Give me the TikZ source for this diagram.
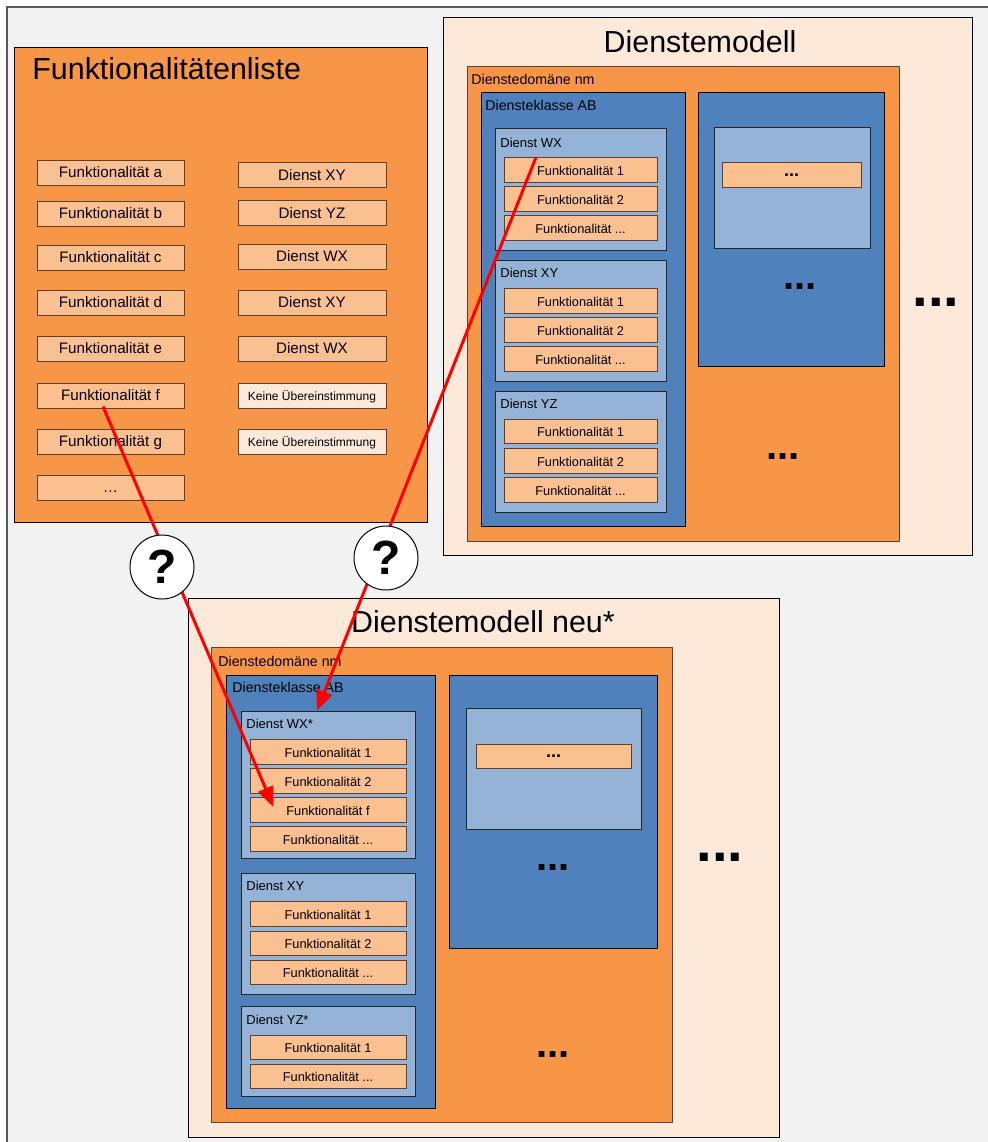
\documentclass[tikz,border=0pt]{standalone}
\usepackage{fontspec}
\setmainfont{Liberation Sans}
\usetikzlibrary{fit,calc,arrows.meta}

\definecolor{framegray}{HTML}{F2F2F2}
\definecolor{peach}{HTML}{FDE9D9}
\definecolor{orng}{HTML}{F79646}
\definecolor{lorng}{HTML}{FAC090}
\definecolor{dblue}{HTML}{4F81BD}
\definecolor{lblue}{HTML}{95B3D7}
\definecolor{brn}{HTML}{5C4030}

\begin{document}
\begin{tikzpicture}[x=0.5pt,y=0.5pt]
\tikzstyle{every node}+=[inner sep=0pt]
\tikzstyle{cont}=[rectangle, draw=black, line width=0.5pt]
\tikzstyle{modelbox}=[cont, fill=peach]
\tikzstyle{domainbox}=[cont, fill=orng, draw=brn]
\tikzstyle{klassebox}=[cont, fill=dblue]
\tikzstyle{dienstbox}=[cont, fill=lblue, draw=black!85]
\tikzstyle{funkbox}=[cont, fill=lorng, draw=brn, minimum width=76.5pt, minimum height=12.25pt, text height=0.72em, text depth=0.2em, font=\fontsize{6.4}{7}\selectfont]
\tikzstyle{listbox}=[funkbox, minimum width=73.5pt, minimum height=12.5pt, font=\fontsize{7.6}{9}\selectfont]
\tikzstyle{keinebox}=[listbox, minimum width=74pt, fill=peach, font=\fontsize{6}{7}\selectfont]
\tikzstyle{titletext}=[font=\fontsize{15.2}{18}\selectfont]
\tikzstyle{lbl}=[anchor=west, font=\fontsize{7.1}{8}\selectfont]
\tikzstyle{dlbl}=[anchor=west, font=\fontsize{6.5}{8}\selectfont]
\tikzstyle{dotsmall}=[font=\bfseries\fontsize{20}{20}\selectfont]
\tikzstyle{dotbig}=[font=\bfseries\fontsize{28}{28}\selectfont]
\tikzstyle{dotbox}=[funkbox, text height=, text depth=, font=\bfseries\fontsize{9}{9}\selectfont]
\tikzstyle{qmark}=[circle, draw=black, fill=white, line width=0.5pt, minimum size=32pt, font=\bfseries\fontsize{24}{24}\selectfont]
\tikzstyle{redarrow}=[draw=red, line width=1.5pt, -{Triangle[length=10pt,width=8pt]}]
\useasboundingbox (0,0) rectangle (988,-1142);
\clip (0,0) rectangle (988,-1142);
\fill [white] (0,0) rectangle (988,-1142);
\draw [fill=framegray, draw=black!65, line width=0.75pt] (7,-7) rectangle (1000,-1160);
% Funktionalitaetenliste
\node [cont, fill=orng, fit={(14,-47) (427,-522)}] (liste) {};
\node [titletext, anchor=west] at (32,-69) {Funktionalitätenliste};
\node [listbox] (fa) at (110.5,-172.5) {Funktionalität a};
\node [listbox] (fb) at (110.5,-213.5) {Funktionalität b};
\node [listbox] (fc) at (110.5,-257.5) {Funktionalität c};
\node [listbox] (fd) at (110.5,-302.5) {Funktionalität d};
\node [listbox] (fe) at (110.5,-348.5) {Funktionalität e};
\node [listbox] (ff) at (110.5,-395.5) {Funktionalität f};
\node [listbox] (fg) at (110.5,-441.5) {Funktionalität g};
\node [listbox] (fx) at (110.5,-487.5) {\ldots};
\node [listbox, minimum width=74pt] (da) at (312,-175) {Dienst XY};
\node [listbox, minimum width=74pt] (db) at (312,-213) {Dienst YZ};
\node [listbox, minimum width=74pt] (dc) at (312,-256.5) {Dienst WX};
\node [listbox, minimum width=74pt] (dd) at (312,-302.5) {Dienst XY};
\node [listbox, minimum width=74pt] (de) at (312,-348.5) {Dienst WX};
\node [keinebox] (df) at (312,-395.5) {Keine Übereinstimmung};
\node [keinebox] (dg) at (312,-441.5) {Keine Übereinstimmung};
% Dienstemodell
\node [modelbox, fit={(443,-17) (972,-555)}] (om) {};
\node [titletext] at (700,-42) {Dienstemodell};
\node [domainbox, fit={(467,-66) (899,-541)}] (odom) {};
\node [lbl] at (471,-79) {Dienstedomäne nm};
\node [klassebox, fit={(481,-92) (685,-526)}] (okl) {};
\node [lbl] at (485,-105) {Diensteklasse AB};
\node [dienstbox, fit={(495,-128) (666,-250)}] (owx) {};
\node [dlbl] at (500,-143) {Dienst WX};
\node [funkbox] (owx1) at (580.5,-170) {Funktionalität 1};
\node [funkbox] (owx2) at (580.5,-199) {Funktionalität 2};
\node [funkbox] (owx3) at (580.5,-228) {Funktionalität ...};
\node [dienstbox, fit={(495,-260) (666,-381)}] (oxy) {};
\node [dlbl] at (500,-273) {Dienst XY};
\node [funkbox] (oxy1) at (580.5,-301) {Funktionalität 1};
\node [funkbox] (oxy2) at (580.5,-330) {Funktionalität 2};
\node [funkbox] (oxy3) at (580.5,-359) {Funktionalität ...};
\node [dienstbox, fit={(495,-391) (666,-512)}] (oyz) {};
\node [dlbl] at (500,-404) {Dienst YZ};
\node [funkbox] (oyz1) at (580.5,-431.5) {Funktionalität 1};
\node [funkbox] (oyz2) at (580.5,-461) {Funktionalität 2};
\node [funkbox] (oyz3) at (580.5,-490) {Funktionalität ...};
\node [klassebox, fit={(698,-92) (884,-366)}] (okl2) {};
\node [dienstbox, fit={(714,-127) (870,-248)}] (od2) {};
\node [dotbox, minimum width=69.5pt] (of2) at (791.5,-175) {...};
\node [dotsmall] at (800,-287) {...};
\node [dotsmall] at (783,-457) {...};
\node [dotbig] at (936,-302) {...};
% Dienstemodell neu
\node [modelbox, fit={(188,-598) (779,-1137)}] (nm) {};
\node [titletext] at (483,-622) {Dienstemodell neu*};
\node [domainbox, fit={(211,-647) (672,-1122)}] (ndom) {};
\node [lbl] at (218,-661) {Dienstedomäne nm};
\node [klassebox, fit={(226,-675) (435,-1108)}] (nkl) {};
\node [lbl] at (232,-687) {Diensteklasse AB};
\node [dienstbox, fit={(241,-711) (415,-858)}] (nwx) {};
\node [dlbl] at (246,-724) {Dienst WX*};
\node [funkbox, minimum width=78pt] (nwx1) at (328,-752) {Funktionalität 1};
\node [funkbox, minimum width=78pt] (nwx2) at (328,-781) {Funktionalität 2};
\node [funkbox, minimum width=78pt] (nff) at (328,-810) {Funktionalität f};
\node [funkbox, minimum width=78pt] (nwx3) at (328,-839) {Funktionalität ...};
\node [dienstbox, fit={(241,-873) (415,-994)}] (nxy) {};
\node [dlbl] at (246,-886) {Dienst XY};
\node [funkbox, minimum width=78pt] (nxy1) at (328,-914) {Funktionalität 1};
\node [funkbox, minimum width=78pt] (nxy2) at (328,-943.5) {Funktionalität 2};
\node [funkbox, minimum width=78pt] (nxy3) at (328,-972.5) {Funktionalität ...};
\node [dienstbox, fit={(241,-1006) (415,-1096)}] (nyz) {};
\node [dlbl] at (246,-1020) {Dienst YZ*};
\node [funkbox, minimum width=78pt] (nyz1) at (328,-1047.5) {Funktionalität 1};
\node [funkbox, minimum width=78pt] (nyz3) at (328,-1076.5) {Funktionalität ...};
\node [klassebox, fit={(449,-675) (657,-948)}] (nkl2) {};
\node [dienstbox, fit={(466,-708) (641,-829)}] (nd2) {};
\node [dotbox, minimum width=77.5pt] (nf2) at (553.5,-756.5) {...};
\node [dotsmall] at (553,-868) {...};
\node [dotsmall] at (553,-1055) {...};
\node [dotbig] at (720,-857) {...};
% Zuordnung
\draw [redarrow] ($(ff.south)+(-7.5,2)$) -- ($(nff.west)+(24,3)$);
\draw [redarrow] ($(owx1.north)+(-44.5,0)$) -- ($(nwx.north)+(-11,0)$);
\node [qmark] (q1) at (162,-567) {?};
\node [qmark] (q2) at (386,-558) {?};
\end{tikzpicture}
\end{document}
